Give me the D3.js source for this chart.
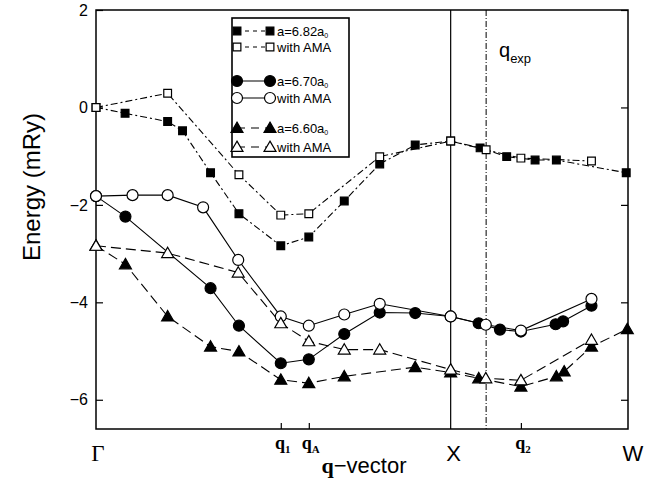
<!DOCTYPE html>
<html><head><meta charset="utf-8">
<script src="https://cdn.jsdelivr.net/npm/d3@7"></script>
<style>body{margin:0;background:#fff}svg{display:block}</style>
</head><body><svg id="c" width="647" height="483"></svg>
<script>
// ---- data (q in units of 2π/a: Γ=0, X=1, W=1.5) ----
const q682 = [0,0.082,0.202,0.244,0.323,0.403,0.521,0.600,0.700,0.800,0.900,1.000,1.083,1.158,1.238,1.298,1.495];
const e682 = [0,-0.12,-0.29,-0.48,-1.34,-2.18,-2.84,-2.66,-1.92,-1.16,-0.77,-0.69,-0.83,-1.01,-1.08,-1.08,-1.34];
const q682AMA = [0,0.202,0.403,0.521,0.600,0.800,1.000,1.100,1.198,1.397];
const e682AMA = [0,0.29,-1.38,-2.21,-2.18,-1.01,-0.69,-0.87,-1.04,-1.10];
const q670 = [0,0.083,0.323,0.403,0.521,0.600,0.700,0.800,0.900,1.000,1.079,1.139,1.198,1.296,1.317,1.397];
const e670 = [-1.82,-2.24,-3.71,-4.48,-5.25,-5.17,-4.65,-4.21,-4.22,-4.29,-4.43,-4.56,-4.60,-4.45,-4.39,-4.07];
const q670AMA = [0,0.103,0.202,0.302,0.401,0.521,0.600,0.700,0.800,1.000,1.099,1.198,1.397];
const e670AMA = [-1.82,-1.80,-1.80,-2.05,-3.13,-4.29,-4.48,-4.25,-4.03,-4.29,-4.46,-4.58,-3.93];
const q660 = [0,0.083,0.202,0.323,0.403,0.521,0.600,0.700,0.900,1.000,1.079,1.198,1.298,1.320,1.397,1.498];
const e660 = [-2.84,-3.22,-4.29,-4.91,-5.01,-5.59,-5.66,-5.52,-5.33,-5.44,-5.56,-5.73,-5.52,-5.42,-4.91,-4.55];
const q660AMA = [0,0.202,0.401,0.521,0.600,0.700,0.800,1.000,1.099,1.198,1.397];
const e660AMA = [-2.84,-2.99,-3.39,-4.43,-4.80,-4.97,-4.97,-5.38,-5.56,-5.60,-4.77];

const yTicks = [-6,-4,-2,0,2];
const symNames = ["Γ","q1","qA","X","q2","W"];
const symPos = [0,0.521,0.600,1.000,1.198,1.5];
const qExp = 1.10;
const legendLabels = ["a=6.82a","with AMA","a=6.70a","with AMA","a=6.60a","with AMA"];

// ---- chart ----
const svg = d3.select("#c");
const x = d3.scaleLinear().domain([0,1.5]).range([96,628]);
const y = d3.scaleLinear().domain([-6.6,2]).range([429,10]);
const sans = "'Liberation Sans', Arial, Helvetica, sans-serif";
const serif = "'Liberation Serif', 'Times New Roman', serif";

const DASHDOT = "7,3,2,3", LONG = "10,5";
const series = [
  {q:q682, e:e682, shape:d3.symbolSquare, size:60, fill:"#000", dash:DASHDOT},
  {q:q670, e:e670, shape:d3.symbolCircle, size:95, fill:"#000", dash:null},
  {q:q660, e:e660, shape:d3.symbolTriangle, size:62, fill:"#000", dash:LONG},
  {q:q682AMA, e:e682AMA, shape:d3.symbolSquare, size:60, fill:"#fff", dash:DASHDOT},
  {q:q670AMA, e:e670AMA, shape:d3.symbolCircle, size:95, fill:"#fff", dash:null},
  {q:q660AMA, e:e660AMA, shape:d3.symbolTriangle, size:62, fill:"#fff", dash:LONG},
];

// reference lines
svg.append("line").attr("x1",x(1)).attr("x2",x(1)).attr("y1",y(2)).attr("y2",y(-6.6))
  .attr("stroke","#000").attr("stroke-width",1.2);
svg.append("line").attr("x1",x(qExp)).attr("x2",x(qExp)).attr("y1",y(2)).attr("y2",y(-6.6))
  .attr("stroke","#000").attr("stroke-width",1).attr("stroke-dasharray","6,2,1,2");

// axes
const gl = svg.append("g").attr("transform",`translate(${x(0)},0)`)
  .call(d3.axisLeft(y).tickValues(yTicks).tickSize(-7).tickPadding(8)
        .tickFormat(d=> d<0 ? "\u2212"+Math.abs(d) : d));
gl.select(".domain").remove();
gl.selectAll("text").attr("font-family",sans).attr("font-size",16).attr("fill","#000");
gl.selectAll("line").attr("stroke","#000").attr("stroke-width",1.2);
const gr = svg.append("g").attr("transform",`translate(${x(1.5)},0)`)
  .call(d3.axisRight(y).tickValues(yTicks).tickSize(-7).tickFormat(""));
gr.select(".domain").remove();
gr.selectAll("line").attr("stroke","#000").attr("stroke-width",1.2);
const gb = svg.append("g").attr("transform",`translate(0,${y(-6.6)})`)
  .call(d3.axisBottom(x).tickValues([symPos[1],symPos[2],symPos[4]]).tickSize(-6).tickFormat(""));
gb.select(".domain").remove();
gb.selectAll("line").attr("stroke","#000").attr("stroke-width",1.2);

// frame
svg.append("rect").attr("x",x(0)).attr("y",y(2)).attr("width",x(1.5)-x(0)).attr("height",y(-6.6)-y(2))
  .attr("fill","none").attr("stroke","#000").attr("stroke-width",1.5);

// series
const line = d3.line().x(d=>x(d[0])).y(d=>y(d[1]));
series.forEach(s=>{
  const pts = s.q.map((q,i)=>[q,s.e[i]]);
  svg.append("path").attr("d",line(pts)).attr("fill","none").attr("stroke","#000")
    .attr("stroke-width",1.1).attr("stroke-dasharray",s.dash);
});
series.forEach(s=>{
  const pts = s.q.map((q,i)=>[q,s.e[i]]);
  svg.append("g").selectAll("path").data(pts).join("path")
    .attr("transform",d=>`translate(${x(d[0])},${y(d[1]) + (s.shape===d3.symbolTriangle?1:0)})`)
    .attr("d",d3.symbol().type(s.shape).size(s.size))
    .attr("fill",s.fill).attr("stroke","#000").attr("stroke-width",1.2);
});

// x labels
const xl = svg.append("g");
symNames.forEach((n,i)=>{
  const px = x(symPos[i]);
  if (n==="Γ") xl.append("text").attr("x",px+2).attr("y",461).attr("text-anchor","middle")
      .attr("font-family",serif).attr("font-size",23).text("Γ");
  else if (n==="X"||n==="W") xl.append("text").attr("x",px+(n==="W"?5:3)).attr("y",461).attr("text-anchor","middle")
      .attr("font-family",sans).attr("font-size",22).text(n);
  else {
    const t = xl.append("text").attr("x",px+2).attr("y",449).attr("text-anchor","middle")
      .attr("font-family",serif).attr("font-weight","bold").attr("font-size",18);
    t.append("tspan").text("q");
    t.append("tspan").attr("dy",4).attr("font-size",11).text(n.slice(1));
  }
});
const xt = svg.append("text").attr("x",364).attr("y",473).attr("text-anchor","middle").attr("font-size",22);
xt.append("tspan").attr("font-family",serif).attr("font-weight","bold").text("q");
xt.append("tspan").attr("font-family",sans).text("\u2212vector");

// y label
svg.append("text").attr("transform","translate(40,187) rotate(-90)").attr("text-anchor","middle")
  .attr("font-family",sans).attr("font-size",24).text("Energy (mRy)");

// q_exp label
const qe = svg.append("text").attr("x",499).attr("y",57).attr("font-family",sans).attr("font-size",20);
qe.append("tspan").text("q");
qe.append("tspan").attr("dy",6).attr("font-size",13).text("exp");

// legend
const lg = svg.append("g");
lg.append("rect").attr("x",232).attr("y",18).attr("width",117).attr("height",139)
  .attr("fill","#fff").attr("stroke","#000").attr("stroke-width",1.6);
const rowsY = [31,47,81,98,128,147];
const legDash = ["4,4","4,4",null,null,"8,6","8,6"];
const legSeries = [series[0],series[3],series[1],series[4],series[2],series[5]];
legSeries.forEach((s,i)=>{
  const ry = rowsY[i];
  lg.append("line").attr("x1",237).attr("x2",270).attr("y1",ry).attr("y2",ry)
    .attr("stroke","#000").attr("stroke-width",1.2).attr("stroke-dasharray",legDash[i]);
  [237,270].forEach(px=>{
    lg.append("path").attr("transform",`translate(${px},${ry+(s.shape===d3.symbolTriangle?1:0)})`)
      .attr("d",d3.symbol().type(s.shape).size(s.size))
      .attr("fill",s.fill).attr("stroke","#000").attr("stroke-width",1.2);
  });
  const t = lg.append("text").attr("x",277).attr("y",ry+5).attr("font-family",sans).attr("font-size",13);
  t.append("tspan").text(legendLabels[i]);
  if (legendLabels[i].startsWith("a=")) t.append("tspan").attr("dy",2).attr("font-size",7).text("0");
});
</script>
</body></html>
